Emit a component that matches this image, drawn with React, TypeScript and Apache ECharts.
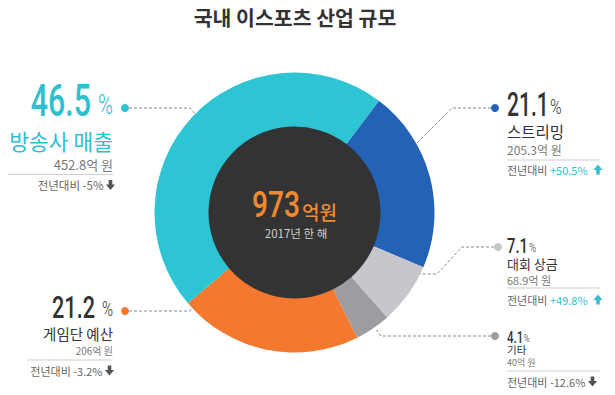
import React, { useEffect, useRef } from 'react';
import * as echarts from 'echarts';

// ---- data ----
const categories = ['스트리밍', '대회 상금', '기타', '게임단 예산', '방송사 매출'];
const amounts = [205.3, 68.9, 40, 206, 452.8]; // 억 원
const shares = ['21.1', '7.1', '4.1', '21.2', '46.5']; // %
const yoyChange = ['+50.5%', '+49.8%', '-12.6%', '-3.2%', '-5%'];
const totalLabel = '973';
const totalUnit = '억원';
const yearLabel = '2017년 한 해';
const titleText = '국내 이스포츠 산업 규모';

// ---- style ----
const colors = ['#2462B5', '#C6C6CC', '#9C9CA1', '#F5782F', '#2DC4D4'];
const W = 615;
const H = 395;
const CX = 294.5;
const CY = 212.5;
const NUM_FONT = 'Roboto, "Noto Sans", sans-serif';
const KR_FONT = '"Noto Sans CJK KR", "Noto Sans", sans-serif';
const UP_COLOR = '#35BFD0';

type Layout = {
  side: 'left' | 'right';
  x: number;
  numY: number; numFs: number; numScale: number; numColor: string;
  pctX: number; pctY: number; pctFs: number;
  nameY: number; nameFs: number; nameColor: string;
  amtY: number; amtFs: number;
  lineY: number; lineX1: number; lineX2: number;
  yoyY: number; yoyFs: number; arrowX: number;
  dot: [number, number];
  path: [number, number][];
};

const layouts: Layout[] = [
  { side: 'right', x: 507, numY: 105, numFs: 34, numScale: 0.62, numColor: '#333',
    pctX: 550, pctY: 107, pctFs: 21, nameY: 131, nameFs: 15.5, nameColor: '#333',
    amtY: 149, amtFs: 12, lineY: 160, lineX1: 507, lineX2: 600, yoyY: 169.5, yoyFs: 11, arrowX: 598,
    dot: [495, 108], path: [[491, 108], [452, 108], [417, 143]] },
  { side: 'right', x: 507, numY: 246, numFs: 20, numScale: 0.74, numColor: '#333',
    pctX: 529, pctY: 247.5, pctFs: 13, nameY: 263.5, nameFs: 13, nameColor: '#333',
    amtY: 279.5, amtFs: 11, lineY: 288, lineX1: 507, lineX2: 600, yoyY: 299.5, yoyFs: 11, arrowX: 598,
    dot: [498, 247], path: [[494, 247], [462, 247], [437, 274], [420, 274]] },
  { side: 'right', x: 507, numY: 337, numFs: 16, numScale: 0.72, numColor: '#333',
    pctX: 523.5, pctY: 338.5, pctFs: 11, nameY: 349.5, nameFs: 10.5, nameColor: '#333',
    amtY: 362.5, amtFs: 9, lineY: 371, lineX1: 507, lineX2: 600, yoyY: 381.5, yoyFs: 11, arrowX: 592.5,
    dot: [495, 336], path: [[491, 336], [381, 336], [375, 328]] },
  { side: 'left', x: 95, numY: 307.5, numFs: 31, numScale: 0.7, numColor: '#333',
    pctX: 113, pctY: 309, pctFs: 20, nameY: 333, nameFs: 14.5, nameColor: '#333',
    amtY: 350.5, amtFs: 10, lineY: 360, lineX1: 27, lineX2: 113, yoyY: 370.5, yoyFs: 11, arrowX: 109.5,
    dot: [125, 311], path: [[129, 311], [190, 311], [193, 306]] },
  { side: 'left', x: 91, numY: 100.5, numFs: 44, numScale: 0.69, numColor: '#2DC0D0',
    pctX: 113, pctY: 105, pctFs: 27, nameY: 140, nameFs: 21.5, nameColor: '#2DC0D0',
    amtY: 164.5, amtFs: 13, lineY: 174.5, lineX1: 8, lineX2: 113, yoyY: 185, yoyFs: 11.5, arrowX: 110.5,
    dot: [125, 108], path: [[129, 108], [190, 108], [195, 114]] },
];

function arrow(cx: number, cy: number, up: boolean, color: string) {
  const s = up ? -1 : 1;
  const pts: number[][] = [
    [cx - 1.8, cy - 5 * s], [cx + 1.8, cy - 5 * s], [cx + 1.8, cy - 0.5 * s],
    [cx + 4.6, cy - 0.5 * s], [cx, cy + 5 * s], [cx - 4.6, cy - 0.5 * s], [cx - 1.8, cy - 0.5 * s],
  ];
  return { type: 'polygon', shape: { points: pts }, style: { fill: color } };
}

function buildGraphics() {
  const g: any[] = [];
  g.push({ type: 'text', x: 295, y: 16.5,
    style: { text: titleText, align: 'center', verticalAlign: 'middle', fontSize: 20.5, fontWeight: 'bold',
      fontFamily: KR_FONT, fill: '#333' } });
  // center
  g.push({ type: 'text', x: 300, y: 205, scaleX: 0.76,
    style: { text: totalLabel, align: 'right', verticalAlign: 'middle', fontSize: 37, fontWeight: 500,
      fontFamily: NUM_FONT, fill: '#F08A30' } });
  g.push({ type: 'text', x: 302, y: 211.5,
    style: { text: totalUnit, align: 'left', verticalAlign: 'middle', fontSize: 19, fontWeight: 500,
      fontFamily: KR_FONT, fill: '#F08A30' } });
  g.push({ type: 'text', x: 296, y: 232.5,
    style: { text: yearLabel, align: 'center', verticalAlign: 'middle', fontSize: 11.5, fontFamily: KR_FONT, fill: '#CFCFCF' } });

  layouts.forEach((L, i) => {
    const color = colors[i];
    const left = L.side === 'left';
    const align = left ? 'right' : 'left';
    g.push({ type: 'polyline', shape: { points: L.path },
      style: { stroke: '#8a8a8a', lineWidth: 1, lineDash: [3, 2], fill: null } });
    g.push({ type: 'circle', shape: { cx: L.dot[0], cy: L.dot[1], r: 4 }, style: { fill: color } });
    g.push({ type: 'text', x: L.x, y: L.numY, scaleX: L.numScale,
      style: { text: shares[i], align, verticalAlign: 'middle', fontSize: L.numFs, fontWeight: 500,
        fontFamily: NUM_FONT, fill: L.numColor } });
    g.push({ type: 'text', x: L.pctX, y: L.pctY, scaleX: 0.75,
      style: { text: '%', align: left ? 'right' : 'left', verticalAlign: 'middle', fontSize: L.pctFs, fontWeight: 300,
        fontFamily: NUM_FONT, fill: L.numColor } });
    const ax = left ? 113 : L.x;
    g.push({ type: 'text', x: ax, y: L.nameY,
      style: { text: categories[i], align, verticalAlign: 'middle', fontSize: L.nameFs, fontFamily: KR_FONT, fill: L.nameColor } });
    g.push({ type: 'text', x: ax, y: L.amtY,
      style: { text: `${amounts[i]}억 원`, align, verticalAlign: 'middle', fontSize: L.amtFs, fontFamily: KR_FONT, fill: '#7a7a7a' } });
    g.push({ type: 'line', shape: { x1: L.lineX1, y1: L.lineY, x2: L.lineX2, y2: L.lineY },
      style: { stroke: '#cfcfcf', lineWidth: 1 } });
    const up = yoyChange[i].startsWith('+');
    const chColor = up ? UP_COLOR : '#666';
    const yx = left ? L.arrowX - 7 : L.x;
    g.push({ type: 'text', x: yx, y: L.yoyY,
      style: { text: `{a|전년대비 }{b|${yoyChange[i]}}`, align, verticalAlign: 'middle',
        rich: {
          a: { fontSize: L.yoyFs, fontFamily: KR_FONT, fill: '#666' },
          b: { fontSize: L.yoyFs, fontFamily: KR_FONT, fill: chColor },
        } } });
    g.push(arrow(L.arrowX, L.yoyY, up, up ? UP_COLOR : '#555'));
  });
  return g.map((e) => ({ z: 100, silent: true, ...e }));
}

export default function App() {
  const ref = useRef<HTMLDivElement>(null);
  useEffect(() => {
    if (!ref.current) return;
    const chart = echarts.init(ref.current, null, { renderer: 'svg' });
    chart.setOption({
      animation: false,
      backgroundColor: '#ffffff',
      series: [
        {
          type: 'pie', center: [CX, CY], radius: [0, 87], silent: true, z: 1,
          label: { show: false }, labelLine: { show: false },
          data: [{ value: 1, name: 'center', itemStyle: { color: '#333333' } }],
        },
        {
          type: 'pie', center: [CX, CY], radius: [86, 140], startAngle: 52.9, clockwise: true, z: 2,
          silent: true,
          label: { show: false }, labelLine: { show: false },
          itemStyle: { borderWidth: 0 },
          data: categories.map((c, i) => ({ name: c, value: amounts[i], itemStyle: { color: colors[i] } })),
        },
      ],
      graphic: { elements: buildGraphics() },
    });
    return () => chart.dispose();
  }, []);
  return <div ref={ref} style={{ position: 'fixed', left: 0, top: 0, width: W, height: H }} />;
}
